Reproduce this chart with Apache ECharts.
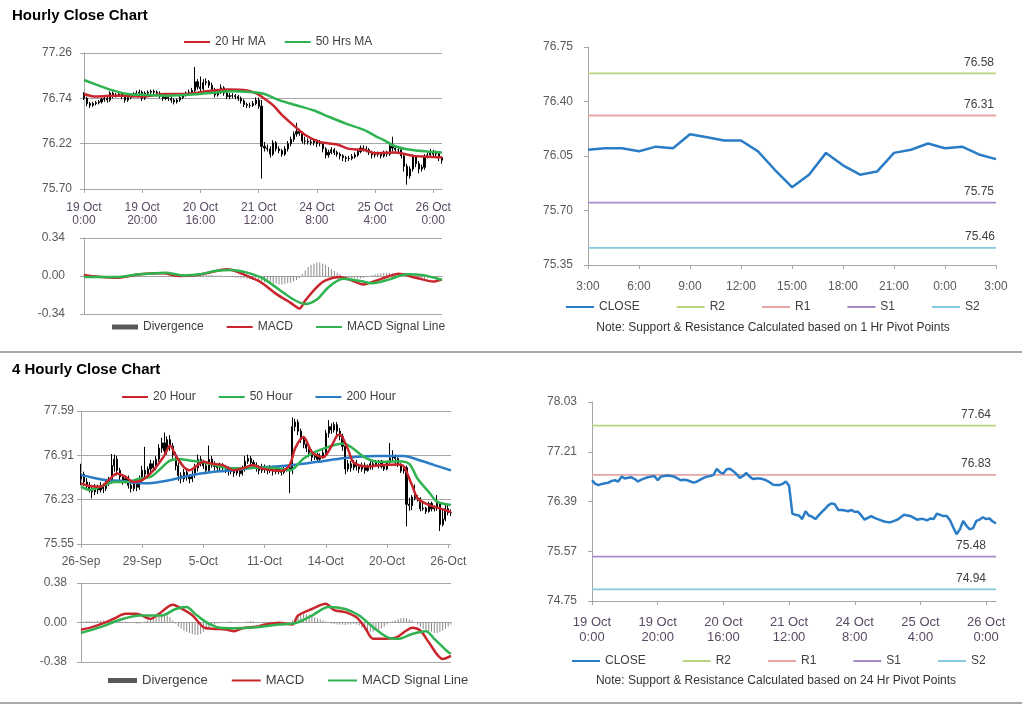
<!DOCTYPE html>
<html><head><meta charset="utf-8">
<script src="https://cdn.jsdelivr.net/npm/echarts@6/dist/echarts.min.js"></script>
<style>html,body{margin:0;padding:0;background:#fff}#c{width:1024px;height:706px}</style>
</head><body><div id="c"></div>
<script>
// ---------------- DATA ----------------
const hourlyTicks = ['19 Oct\n0:00','19 Oct\n20:00','20 Oct\n16:00','21 Oct\n12:00','24 Oct\n8:00','25 Oct\n4:00','26 Oct\n0:00'];
const pivotHourTicks = ['3:00','6:00','9:00','12:00','15:00','18:00','21:00','0:00','3:00'];
const fourHourTicks = ['26-Sep','29-Sep','5-Oct','11-Oct','14-Oct','20-Oct','26-Oct'];

const hourlyYTicks = [75.70, 76.22, 76.74, 77.26];
const pivotHourYTicks = [75.35, 75.70, 76.05, 76.40, 76.75];
const fourYTicks = [75.55, 76.23, 76.91, 77.59];
const pivotDayYTicks = [74.75, 75.57, 76.39, 77.21, 78.03];

const hourlyOpen = [76.78,76.74,76.68,76.66,76.68,76.69,76.70,76.73,76.74,76.72,
 76.80,76.77,76.78,76.79,76.76,76.72,76.75,76.77,76.79,76.80,
 76.81,76.74,76.80,76.81,76.82,76.81,76.80,76.77,76.74,76.75,
 76.74,76.72,76.70,76.72,76.75,76.78,76.80,76.81,76.83,76.93,
 76.87,76.85,76.92,76.93,76.89,76.84,76.78,76.81,76.86,76.80,
 76.76,76.77,76.77,76.76,76.74,76.71,76.67,76.66,76.66,76.68,
 76.72,76.65,76.19,76.17,76.16,76.10,76.23,76.16,76.14,76.10,
 76.16,76.22,76.27,76.33,76.36,76.34,76.25,76.25,76.24,76.23,
 76.25,76.22,76.22,76.16,76.09,76.12,76.15,76.12,76.10,76.08,
 76.06,76.05,76.05,76.07,76.09,76.13,76.17,76.16,76.15,76.12,
 76.09,76.10,76.10,76.08,76.11,76.10,76.19,76.17,76.15,76.15,
 76.08,75.96,75.85,75.93,76.07,75.99,75.93,75.95,76.07,76.09,
 76.13,76.10,76.11,76.06];
const hourlyClose = [76.74,76.68,76.66,76.68,76.69,76.70,76.73,76.74,76.72,76.80,
 76.77,76.78,76.79,76.76,76.72,76.75,76.77,76.79,76.80,76.81,
 76.74,76.80,76.81,76.82,76.81,76.80,76.77,76.74,76.75,76.74,
 76.72,76.70,76.72,76.75,76.78,76.80,76.81,76.83,76.93,76.87,
 76.85,76.92,76.93,76.89,76.84,76.78,76.81,76.86,76.80,76.76,
 76.77,76.77,76.76,76.74,76.71,76.67,76.66,76.66,76.68,76.72,
 76.65,76.19,76.17,76.16,76.10,76.23,76.16,76.14,76.10,76.16,
 76.22,76.27,76.33,76.36,76.34,76.25,76.25,76.24,76.23,76.25,
 76.22,76.22,76.16,76.09,76.12,76.15,76.12,76.10,76.08,76.06,
 76.05,76.05,76.07,76.09,76.13,76.17,76.16,76.15,76.12,76.09,
 76.10,76.10,76.08,76.11,76.10,76.19,76.17,76.15,76.15,76.08,
 75.96,75.85,75.93,76.07,75.99,75.93,75.95,76.07,76.09,76.13,
 76.10,76.11,76.06,76.03];
const hourlyHigh = [76.81,76.76,76.70,76.70,76.71,76.72,76.75,76.77,76.76,76.82,
 76.82,76.80,76.81,76.81,76.78,76.77,76.79,76.81,76.83,76.84,
 76.83,76.82,76.83,76.84,76.84,76.83,76.82,76.79,76.77,76.77,
 76.76,76.74,76.74,76.77,76.80,76.82,76.84,76.86,77.10,76.96,
 76.99,76.96,76.97,76.95,76.92,76.86,76.84,76.90,76.88,76.82,
 76.80,76.80,76.79,76.78,76.76,76.73,76.69,76.69,76.71,76.75,
 76.75,76.72,76.24,76.21,76.19,76.26,76.25,76.19,76.16,76.19,
 76.25,76.30,76.36,76.46,76.39,76.36,76.30,76.28,76.27,76.28,
 76.27,76.26,76.24,76.18,76.15,76.18,76.17,76.14,76.12,76.10,
 76.08,76.08,76.10,76.12,76.16,76.20,76.20,76.19,76.17,76.14,
 76.13,76.13,76.12,76.14,76.14,76.22,76.30,76.20,76.18,76.17,
 76.10,75.99,75.96,76.10,76.09,76.02,75.98,76.10,76.12,76.16,
 76.15,76.14,76.13,76.08];
const hourlyLow = [76.72,76.65,76.63,76.64,76.66,76.67,76.68,76.70,76.69,76.70,
 76.74,76.75,76.76,76.73,76.69,76.70,76.73,76.75,76.77,76.78,
 76.71,76.72,76.78,76.79,76.79,76.78,76.74,76.71,76.72,76.71,
 76.69,76.67,76.68,76.70,76.73,76.76,76.78,76.79,76.81,76.84,
 76.82,76.83,76.89,76.86,76.81,76.75,76.76,76.79,76.77,76.73,
 76.73,76.74,76.73,76.71,76.68,76.64,76.63,76.63,76.64,76.66,
 76.62,75.82,76.13,76.13,76.06,76.08,76.13,76.11,76.07,76.08,
 76.13,76.19,76.24,76.30,76.31,76.22,76.21,76.21,76.20,76.20,
 76.18,76.19,76.12,76.05,76.06,76.10,76.09,76.07,76.04,76.02,
 76.01,76.02,76.03,76.05,76.07,76.11,76.13,76.12,76.09,76.05,
 76.06,76.07,76.05,76.06,76.07,76.08,76.13,76.12,76.11,76.05,
 75.90,75.75,75.82,75.90,75.95,75.88,75.90,75.92,76.05,76.06,
 76.07,76.07,76.02,75.99];

// moving averages read at selected bars: [bar index, value]
const hourlyMa20 = [[0,76.79],[4,76.76],[9,76.77],[15,76.77],[20,76.76],[28,76.79],[35,76.79],[42,76.82],[50,76.84],[56,76.83],[59,76.80],[61,76.76],[65,76.66],[68,76.55],[72,76.43],[76,76.32],[81,76.24],[87,76.21],[91,76.16],[96,76.15],[100,76.11],[107,76.12],[113,76.08],[118,76.07],[123,76.06]];
const hourlyMa50 = [[0,76.95],[4,76.90],[9,76.84],[15,76.79],[20,76.78],[28,76.77],[35,76.78],[43,76.80],[51,76.82],[58,76.81],[62,76.79],[67,76.72],[73,76.66],[79,76.60],[84,76.53],[90,76.45],[96,76.38],[100,76.31],[103,76.26],[107,76.19],[112,76.15],[118,76.13],[123,76.12]];

const hourlyDiv = [0.01,0.01,0.005,0,0,-0.005,-0.005,-0.005,-0.005,-0.005,
 -0.005,0,0,0.005,0.005,0.005,0.005,0.005,0,0,
 0,0,0,-0.005,-0.005,-0.005,-0.005,-0.005,-0.005,-0.005,
 -0.005,-0.005,0,0,0,0.005,0.005,0.01,0.015,0.02,
 0.02,0.02,0.015,0.01,0.01,0.005,0.005,0.005,0,-0.005,
 -0.01,-0.01,-0.015,-0.015,-0.02,-0.02,-0.025,-0.03,-0.035,-0.04,
 -0.045,-0.05,-0.055,-0.06,-0.065,-0.07,-0.07,-0.075,-0.075,-0.07,
 -0.065,-0.06,-0.05,-0.035,-0.02,0.02,0.05,0.08,0.1,0.11,
 0.12,0.12,0.11,0.1,0.08,0.06,0.045,0.03,0.015,0,
 -0.01,-0.015,-0.02,-0.02,-0.02,-0.02,-0.015,-0.01,0,0.01,
 0.015,0.02,0.025,0.03,0.03,0.03,0.025,0.02,0.015,0.01,
 0,-0.01,-0.015,-0.02,-0.02,-0.025,-0.025,-0.025,-0.02,-0.02,
 -0.015,-0.01,-0.005,0];
const hourlyMacd = [[0,0.01],[5,-0.006],[12,-0.015],[19,0.015],[27,0.024],[33,0.0],[38,0.006],[43,0.03],[49,0.06],[52,0.045],[57,-0.01],[61,-0.06],[66,-0.16],[71,-0.24],[74,-0.29],[76,-0.22],[80,-0.10],[83,-0.04],[88,-0.01],[91,-0.03],[96,-0.075],[100,-0.045],[105,0.0],[108,0.02],[114,-0.015],[120,-0.05],[123,-0.03]];
const hourlySignal = [[0,-0.01],[11,-0.01],[19,0.015],[28,0.03],[34,0.005],[40,0.015],[45,0.045],[51,0.054],[56,0.03],[61,-0.015],[67,-0.12],[72,-0.21],[76,-0.25],[80,-0.21],[84,-0.10],[89,-0.025],[95,-0.045],[99,-0.065],[105,-0.03],[111,0.015],[116,0.01],[121,-0.02],[123,-0.035]];

// 1 Hr pivot panel (25 Oct 3:00 .. 26 Oct 3:00)
const pivotHourClose = [76.09,76.10,76.10,76.08,76.11,76.10,76.19,76.17,76.15,76.15,76.08,75.96,75.85,75.93,76.07,75.99,75.93,75.95,76.07,76.09,76.13,76.10,76.11,76.06,76.03];
const pivotHourLevels = {R2:76.58, R1:76.31, S1:75.75, S2:75.46};

// 4 hourly
const fourOpen = [76.55,76.62,76.50,76.45,76.40,76.35,76.42,76.38,76.44,76.40,
 76.48,76.52,76.75,76.85,76.68,76.58,76.52,76.55,76.45,76.40,
 76.48,76.42,76.55,76.68,76.62,76.70,76.78,76.72,76.85,77.02,
 77.10,76.98,77.15,77.05,76.92,76.75,76.60,76.55,76.65,76.58,
 76.55,76.62,76.72,76.85,76.80,76.75,76.68,76.85,76.78,76.74,
 76.72,76.76,76.72,76.70,76.66,76.68,76.64,76.67,76.63,76.70,
 76.82,76.86,76.80,76.76,76.72,76.68,76.74,76.70,76.68,76.72,
 76.66,76.70,76.68,76.65,76.70,76.72,76.68,77.35,77.42,77.28,
 77.15,77.08,77.02,76.95,76.88,76.92,76.85,76.90,76.95,77.25,
 77.35,77.30,77.38,77.28,77.20,77.05,76.70,76.78,76.72,76.80,
 76.74,76.70,76.76,76.68,76.74,76.78,76.75,76.81,76.82,76.74,
 76.70,76.80,76.87,76.89,76.86,76.77,76.67,76.72,76.16,76.14,
 76.27,76.25,76.25,76.09,76.10,76.05,76.17,76.09,76.11,76.17,
 75.85,75.93,76.09,76.03];
const fourClose = [76.62,76.50,76.45,76.40,76.35,76.42,76.38,76.44,76.40,76.48,
 76.52,76.75,76.85,76.68,76.58,76.52,76.55,76.45,76.40,76.48,
 76.42,76.55,76.68,76.62,76.70,76.78,76.72,76.85,77.02,77.10,
 76.98,77.15,77.05,76.92,76.75,76.60,76.55,76.65,76.58,76.55,
 76.62,76.72,76.85,76.80,76.75,76.68,76.85,76.78,76.74,76.72,
 76.76,76.72,76.70,76.66,76.68,76.64,76.67,76.63,76.70,76.82,
 76.86,76.80,76.76,76.72,76.68,76.74,76.70,76.68,76.72,76.66,
 76.70,76.68,76.65,76.70,76.72,76.68,77.35,77.42,77.28,77.15,
 77.08,77.02,76.95,76.88,76.92,76.85,76.90,76.95,77.25,77.35,
 77.30,77.38,77.28,77.20,77.05,76.70,76.78,76.72,76.80,76.74,
 76.70,76.76,76.68,76.74,76.78,76.75,76.81,76.82,76.74,76.70,
 76.80,76.87,76.89,76.86,76.77,76.67,76.72,76.16,76.14,76.27,
 76.25,76.25,76.09,76.10,76.05,76.17,76.09,76.11,76.17,75.85,
 75.93,76.09,76.03,76.03];
const fourHigh = [76.78,76.66,76.56,76.50,76.46,76.47,76.46,76.50,76.48,76.53,
 76.58,76.93,76.92,76.90,76.72,76.62,76.60,76.60,76.50,76.52,
 76.54,76.60,76.75,77.04,76.74,76.84,76.83,76.90,77.08,77.18,
 77.26,77.20,77.22,77.10,76.96,76.80,76.65,76.70,76.70,76.62,
 76.68,76.78,76.92,76.90,76.84,76.80,77.06,76.90,76.82,76.78,
 76.80,76.79,76.76,76.74,76.72,76.71,76.71,76.70,76.75,76.90,
 76.92,76.90,76.84,76.80,76.76,76.78,76.77,76.74,76.76,76.75,
 76.74,76.73,76.72,76.74,76.76,76.75,77.49,77.47,77.46,77.32,
 77.20,77.12,77.06,77.00,76.97,76.95,76.94,77.00,77.30,77.45,
 77.40,77.42,77.42,77.33,77.24,77.08,76.84,76.82,76.84,76.84,
 76.78,76.80,76.80,76.77,76.82,76.81,76.84,76.84,76.84,76.77,
 76.82,77.10,76.99,76.92,76.88,76.79,76.75,76.75,76.26,76.30,
 76.46,76.30,76.27,76.18,76.12,76.20,76.20,76.14,76.30,76.18,
 76.10,76.16,76.15,76.08];
const fourLow = [76.45,76.44,76.40,76.34,76.25,76.30,76.32,76.34,76.33,76.36,
 76.44,76.48,76.66,76.60,76.52,76.46,76.48,76.40,76.34,76.36,
 76.36,76.38,76.50,76.56,76.58,76.64,76.66,76.68,76.80,76.95,
 76.90,76.92,76.98,76.86,76.68,76.52,76.48,76.50,76.52,76.48,
 76.50,76.56,76.66,76.74,76.70,76.62,76.64,76.72,76.68,76.66,
 76.68,76.68,76.64,76.60,76.62,76.58,76.60,76.58,76.60,76.66,
 76.78,76.74,76.70,76.66,76.62,76.64,76.64,76.62,76.64,76.60,
 76.62,76.62,76.60,76.62,76.66,76.33,76.62,77.28,77.22,77.10,
 77.02,76.96,76.88,76.82,76.84,76.80,76.80,76.86,76.90,77.18,
 77.24,77.26,77.22,77.14,76.98,76.62,76.66,76.66,76.68,76.68,
 76.64,76.66,76.63,76.66,76.69,76.69,76.73,76.71,76.71,76.67,
 76.68,76.78,76.82,76.75,76.73,76.64,76.63,75.82,76.06,76.07,
 76.22,76.20,76.05,76.06,76.01,76.03,76.05,76.05,76.06,75.75,
 75.82,75.90,75.99,75.98];

const fourMa20 = [[0,76.48],[3,76.44],[7,76.43],[10,76.53],[13,76.63],[16,76.58],[19,76.50],[22,76.53],[26,76.68],[30,76.91],[32,77.06],[34,76.91],[37,76.73],[39,76.68],[41,76.73],[44,76.81],[47,76.78],[51,76.76],[55,76.68],[58,76.71],[62,76.76],[65,76.71],[69,76.68],[72,76.67],[75,76.76],[77,77.02],[80,77.19],[83,76.96],[87,76.88],[90,77.05],[92,77.21],[93,77.23],[96,77.00],[98,76.80],[103,76.74],[108,76.76],[114,76.77],[116,76.74],[119,76.45],[121,76.25],[125,76.15],[131,76.07],[133,76.04]];
const fourMa50 = [[0,76.43],[3,76.38],[7,76.43],[12,76.50],[16,76.50],[21,76.55],[25,76.58],[28,76.68],[32,76.83],[36,76.85],[39,76.83],[43,76.81],[48,76.76],[52,76.72],[57,76.71],[62,76.72],[67,76.72],[71,76.71],[75,76.68],[80,76.86],[84,76.96],[89,77.04],[94,77.09],[97,77.04],[102,76.88],[107,76.81],[114,76.82],[118,76.78],[121,76.55],[125,76.35],[128,76.20],[133,76.15]];
const fourMa200 = [[0,76.61],[4,76.57],[9,76.53],[14,76.52],[19,76.49],[24,76.48],[28,76.50],[33,76.54],[38,76.59],[43,76.63],[48,76.66],[55,76.68],[62,76.72],[67,76.73],[76,76.76],[85,76.81],[95,76.87],[106,76.90],[116,76.90],[122,76.83],[127,76.76],[133,76.68]];

const fourDiv = [0.01,0.01,0.015,0.015,0.01,0.01,0.015,0.02,0.02,0.015,
 0.02,0.025,0.03,0.02,0.015,0.01,0.01,0.005,0,-0.005,
 -0.01,-0.01,0,0.01,0.02,0.03,0.04,0.05,0.065,0.075,
 0.08,0.07,0.05,0.02,-0.01,-0.04,-0.06,-0.08,-0.09,-0.10,
 -0.11,-0.12,-0.12,-0.11,-0.09,-0.07,-0.05,-0.03,-0.02,-0.01,
 -0.005,0,0.005,0.01,0.01,0.005,0,-0.005,0,0.005,
 0.01,0.015,0.01,0.005,0,-0.005,0,0.005,0.01,0.005,
 0,-0.005,0,0.005,0,-0.01,0.02,0.04,0.06,0.07,
 0.08,0.08,0.075,0.06,0.05,0.04,0.03,0.02,0.01,0,
 -0.01,-0.015,-0.02,-0.02,-0.02,-0.025,-0.02,-0.02,-0.015,-0.02,
 -0.03,-0.05,-0.07,-0.085,-0.09,-0.09,-0.08,-0.07,-0.055,-0.04,
 -0.02,0,0.01,0.02,0.03,0.04,0.045,0.04,0.03,0.02,
 0,-0.02,-0.04,-0.06,-0.07,-0.08,-0.09,-0.10,-0.10,-0.09,
 -0.08,-0.06,-0.04,-0.02];
const fourMacd = [[0,-0.07],[4,-0.045],[9,0.003],[12,0.04],[16,0.083],[20,0.083],[25,0.035],[28,0.083],[33,0.17],[35,0.15],[40,0.07],[44,-0.045],[47,-0.06],[52,-0.067],[55,-0.083],[58,-0.055],[63,-0.04],[66,-0.02],[71,-0.003],[76,-0.02],[78,0.067],[83,0.13],[88,0.18],[91,0.12],[95,0.10],[99,0.05],[102,-0.045],[105,-0.157],[108,-0.157],[113,-0.147],[117,-0.077],[119,-0.05],[122,-0.077],[125,-0.19],[130,-0.35],[133,-0.32]];
const fourSignal = [[0,-0.10],[7,-0.045],[14,0.026],[21,0.067],[29,0.067],[34,0.13],[38,0.15],[41,0.083],[45,0.003],[49,-0.045],[55,-0.055],[63,-0.045],[71,-0.02],[77,-0.006],[83,0.067],[89,0.15],[95,0.13],[100,0.067],[105,-0.045],[110,-0.14],[114,-0.157],[119,-0.11],[124,-0.083],[127,-0.157],[132,-0.285],[133,-0.30]];

// 24 Hr pivot panel uses hourly closes
const pivotDayLevels = {R2:77.64, R1:76.83, S1:75.48, S2:74.94};

// ---------------- STYLE ----------------
const FONT = '"Liberation Sans", Arial, sans-serif';
const AX = '#a6a6a6';
const RED = '#c8262c', GREEN = '#2fb350', BLUE = '#2a7cc6';
const LVL = {R2:'#b9d47e', R1:'#e8a5a5', S1:'#a88bc8', S2:'#86c9de'};
const LBL = '#595959', XLBL = '#5a4a64';

const cats = n => Array.from({length:n}, (_, i) => String(i));
const toOhlc = (o,c,l,h) => o.map((v,i) => [v, c[i], l[i], h[i]]);

function valAxis(grid, min, max, ticks, opt) {
  const base = {
    gridIndex: grid, type: 'value', min, max, scale: true,
    axisLine: {show: true, lineStyle: {color: AX}},
    axisTick: {show: true, length: 4, lineStyle: {color: AX}},
    axisLabel: {color: LBL, fontSize: 12, fontFamily: FONT, formatter: v => v.toFixed(2), margin: 12},
    splitLine: {show: true, lineStyle: {color: AX, width: 1}}
  };
  if (ticks) {
    base.axisTick.customValues = ticks;
    base.axisLabel.customValues = ticks;
  }
  if (opt && opt.margin !== undefined) { base.axisLabel.margin = opt.margin; delete opt.margin; }
  return Object.assign(base, opt || {});
}
function catAxis(grid, n, every, labels, opt) {
  return Object.assign({
    gridIndex: grid, type: 'category', data: cats(n), boundaryGap: false,
    axisLine: {show: true, lineStyle: {color: AX}},
    axisTick: {show: !!labels, interval: every - 1, length: 4, lineStyle: {color: AX}},
    axisLabel: labels ? {show: true, interval: every - 1, formatter: (v, i) => labels[Math.round(i / every)],
      color: XLBL, fontSize: 12, fontFamily: FONT, lineHeight: 13, margin: 12} : {show: false},
    splitLine: {show: false}
  }, opt || {});
}
function line(name, xi, data, color, width) {
  return {type: 'line', name, xAxisIndex: xi, yAxisIndex: xi, data, symbol: 'none', smooth: 0.3,
    lineStyle: {color, width: width || 2.5}, itemStyle: {color}, z: 4, silent: true};
}
function candles(xi, data, w) {
  return {type: 'candlestick', xAxisIndex: xi, yAxisIndex: xi, data, barWidth: w || 1, silent: true, z: 3,
    itemStyle: {color: '#000', color0: '#000', borderColor: '#000', borderColor0: '#000', borderWidth: 1}};
}
function divBars(xi, data) {
  return {type: 'bar', name: 'Divergence', xAxisIndex: xi, yAxisIndex: xi, data, barWidth: 1, silent: true,
    itemStyle: {color: '#8a8a8a'}, z: 2};
}
function level(name, xi, val, lastIdx, dx) {
  return {type: 'line', name, xAxisIndex: xi, yAxisIndex: xi, symbol: 'none', silent: true, z: 3,
    lineStyle: {color: LVL[name], width: 1.8}, itemStyle: {color: LVL[name]},
    data: [[0, val], [lastIdx, val]],
    endLabel: {show: true, formatter: () => val.toFixed(2), offset: [dx, -11], color: '#404040', fontSize: 12, fontFamily: FONT}};
}
const legendBase = {orient: 'horizontal', selectedMode: false, itemWidth: 26, itemHeight: 5,
  itemStyle: {opacity: 0},
  textStyle: {color: '#404040', fontSize: 12, fontFamily: FONT}, padding: 0};
function legend(left, top, data, gap, extra) {
  return Object.assign({}, legendBase, {left, top, data, itemGap: gap}, extra || {});
}
const divLegendItem = {name: 'Divergence', icon: 'rect', itemStyle: {color: '#595959', opacity: 1}};

const option = {
  animation: false,
  backgroundColor: '#fff',
  textStyle: {fontFamily: FONT},
  grid: [
    {left: 84, top: 53, width: 358, height: 136},
    {left: 84, top: 238, width: 358, height: 76},
    {left: 588, top: 47, width: 408, height: 218},
    {left: 81, top: 411, width: 370, height: 133},
    {left: 81, top: 583, width: 370, height: 79},
    {left: 592, top: 402, width: 404, height: 199}
  ],
  xAxis: [
    catAxis(0, hourlyClose.length, 20, hourlyTicks),
    catAxis(1, hourlyClose.length, 20, null),
    catAxis(2, pivotHourClose.length, 3, pivotHourTicks, {axisLabel: {interval: 2, formatter: (v, i) => pivotHourTicks[Math.round(i / 3)], color: LBL, fontSize: 12, fontFamily: FONT, margin: 16}}),
    catAxis(3, fourClose.length, 22, fourHourTicks, {axisLabel: {interval: 21, formatter: (v, i) => fourHourTicks[Math.round(i / 22)], color: LBL, fontSize: 12, fontFamily: FONT, margin: 12}}),
    catAxis(4, fourClose.length, 22, null),
    catAxis(5, hourlyClose.length, 20, hourlyTicks, {axisLabel: {interval: 19, formatter: (v, i) => hourlyTicks[Math.round(i / 20)], color: XLBL, fontSize: 13, fontFamily: FONT, lineHeight: 15, margin: 14}})
  ],
  yAxis: [
    valAxis(0, 75.70, 77.26, hourlyYTicks),
    valAxis(1, -0.34, 0.34, null, {interval: 0.34, margin: 19}),
    valAxis(2, 75.35, 76.75, pivotHourYTicks, {splitLine: {show: false}, margin: 15}),
    valAxis(3, 75.55, 77.59, fourYTicks, {margin: 7}),
    valAxis(4, -0.38, 0.38, null, {interval: 0.38, margin: 14}),
    valAxis(5, 74.75, 78.03, pivotDayYTicks, {splitLine: {show: false}, margin: 15})
  ],
  legend: [
    legend(183, 36, ['20 Hr MA', '50 Hrs MA'], 18),
    legend(112, 321, [divLegendItem, 'MACD', 'MACD Signal Line'], 22),
    legend(565, 301, ['CLOSE', 'R2', 'R1', 'S1', 'S2'], 36, {itemWidth: 28}),
    legend(121, 391, ['20 Hour', '50 Hour', '200 Hour'], 22),
    legend(108, 674, [divLegendItem, 'MACD', 'MACD Signal Line'], 23, {itemWidth: 29, textStyle: {color: '#404040', fontSize: 13, fontFamily: FONT}}),
    legend(571, 655, ['CLOSE', 'R2', 'R1', 'S1', 'S2'], 36, {itemWidth: 28})
  ],
  series: [
    // panel 1
    candles(0, toOhlc(hourlyOpen, hourlyClose, hourlyLow, hourlyHigh), 1.6),
    line('20 Hr MA', 0, hourlyMa20, RED),
    line('50 Hrs MA', 0, hourlyMa50, GREEN),
    // panel 1 MACD
    divBars(1, hourlyDiv),
    line('MACD', 1, hourlyMacd, RED),
    line('MACD Signal Line', 1, hourlySignal, GREEN),
    // panel 2
    Object.assign(line('CLOSE', 2, pivotHourClose, BLUE), {smooth: false}),
    level('R2', 2, pivotHourLevels.R2, pivotHourClose.length - 1, -40),
    level('R1', 2, pivotHourLevels.R1, pivotHourClose.length - 1, -40),
    level('S1', 2, pivotHourLevels.S1, pivotHourClose.length - 1, -40),
    level('S2', 2, pivotHourLevels.S2, pivotHourClose.length - 1, -39),
    // panel 3
    candles(3, toOhlc(fourOpen, fourClose, fourLow, fourHigh), 1.6),
    line('200 Hour', 3, fourMa200, BLUE),
    line('50 Hour', 3, fourMa50, GREEN),
    line('20 Hour', 3, fourMa20, RED),
    // panel 3 MACD
    divBars(4, fourDiv),
    line('MACD', 4, fourMacd, RED),
    line('MACD Signal Line', 4, fourSignal, GREEN),
    // panel 4
    Object.assign(line('CLOSE', 5, hourlyClose, BLUE), {smooth: false}),
    level('R2', 5, pivotDayLevels.R2, hourlyClose.length - 1, -43),
    level('R1', 5, pivotDayLevels.R1, hourlyClose.length - 1, -43),
    level('S1', 5, pivotDayLevels.S1, hourlyClose.length - 1, -48),
    level('S2', 5, pivotDayLevels.S2, hourlyClose.length - 1, -48)
  ],
  graphic: [
    {type: 'text', left: 12, top: 8, style: {text: 'Hourly Close Chart', font: 'bold 15px ' + FONT, fill: '#000'}},
    {type: 'text', left: 12, top: 362, style: {text: '4 Hourly Close Chart', font: 'bold 15px ' + FONT, fill: '#000'}},
    {type: 'line', shape: {x1: 0, y1: 352, x2: 1022, y2: 352}, style: {stroke: '#8c8c8c', lineWidth: 1.5}},
    {type: 'line', shape: {x1: 0, y1: 703, x2: 1022, y2: 703}, style: {stroke: '#8c8c8c', lineWidth: 1.5}},
    {type: 'text', x: 773, y: 328, style: {text: 'Note: Support & Resistance Calculated based on 1 Hr Pivot Points', font: '12px ' + FONT, fill: '#333', align: 'center', verticalAlign: 'middle'}},
    {type: 'text', x: 776, y: 681, style: {text: 'Note: Support & Resistance Calculated based on 24 Hr Pivot Points', font: '12px ' + FONT, fill: '#333', align: 'center', verticalAlign: 'middle'}}
  ]
};

const chart = echarts.init(document.getElementById('c'), null, {renderer: 'canvas'});
chart.setOption(option);
</script></body></html>
